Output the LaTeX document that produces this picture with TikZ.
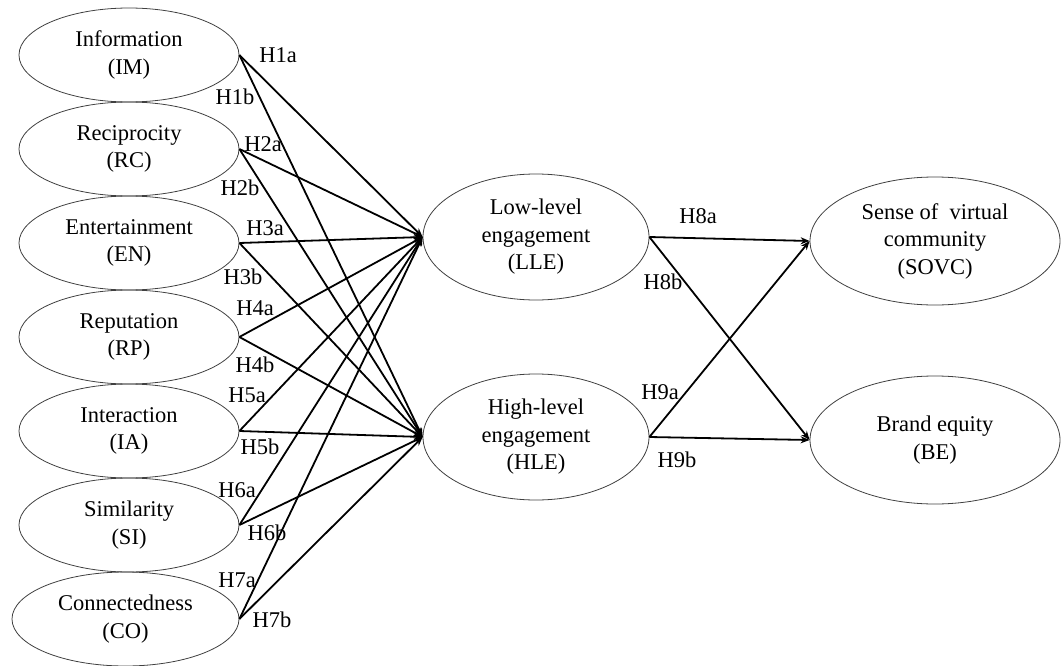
\documentclass[tikz,border=0pt]{standalone}
\usepackage{fontspec}
\setmainfont{Liberation Serif}
\usetikzlibrary{shapes.geometric,arrows.meta}
\begin{document}
\begin{tikzpicture}[x=1pt,y=-1pt,
  lat/.style={ellipse,draw=black!75,line width=0.8pt,minimum width=220pt,minimum height=94pt,inner sep=0pt,align=center,font=\fontsize{22.5}{27.5}\selectfont},
  hyp/.style={font=\fontsize{22.5}{25}\selectfont,inner sep=0pt},
  conn/.style={line width=1.8pt,-{Stealth[length=9pt,width=7pt]}}
]
\useasboundingbox (0,0) rectangle (1062,666);
% left constructs
\node[lat] (IM) at (129,55) {Information\\(IM)};
\node[lat] (RC) at (129,149) {Reciprocity\\(RC)};
\node[lat] (EN) at (129,243) {Entertainment\\(EN)};
\node[lat] (RP) at (129,337) {Reputation\\(RP)};
\node[lat] (IA) at (129,431) {Interaction\\(IA)};
\node[lat] (SI) at (129,525) {Similarity\\(SI)};
\node[lat,minimum width=227pt] (CO) at (125.5,619) {Connectedness\\(CO)};
% middle
\node[lat,minimum width=226pt,minimum height=126pt] (LLE) at (536,237) {Low-level\\engagement\\(LLE)};
\node[lat,minimum width=226pt,minimum height=126pt] (HLE) at (536,437) {High-level\\engagement\\(HLE)};
% right
\node[lat,minimum width=250pt,minimum height=128pt] (SOVC) at (935,241) {Sense of \ virtual\\community\\(SOVC)};
\node[lat,minimum width=250pt,minimum height=128pt] (BE) at (935,440) {Brand equity\\(BE)};
% connectors
\foreach \s in {IM,RC,EN,RP,IA,SI,CO}{
  \draw[conn] (\s.east) -- (LLE.west);
  \draw[conn] (\s.east) -- (HLE.west);
}
\draw[conn] (LLE.east) -- (SOVC.west);
\draw[conn] (LLE.east) -- (BE.west);
\draw[conn] (HLE.east) -- (SOVC.west);
\draw[conn] (HLE.east) -- (BE.west);
% labels
\node[hyp] (h1a) at (278,55) {H1a};
\node[hyp] (h1b) at (235,97) {H1b};
\node[hyp] (h2a) at (263,144) {H2a};
\node[hyp] (h2b) at (240,188) {H2b};
\node[hyp] (h3a) at (265,228) {H3a};
\node[hyp] (h3b) at (243,277) {H3b};
\node[hyp] (h4a) at (255,308) {H4a};
\node[hyp] (h4b) at (255,365) {H4b};
\node[hyp] (h5a) at (247,395) {H5a};
\node[hyp] (h5b) at (260,447) {H5b};
\node[hyp] (h6a) at (237,490) {H6a};
\node[hyp] (h6b) at (267,533) {H6b};
\node[hyp] (h7a) at (237,580) {H7a};
\node[hyp] (h7b) at (272,620) {H7b};
\node[hyp] (h8a) at (698,216) {H8a};
\node[hyp] (h8b) at (663,282) {H8b};
\node[hyp] (h9a) at (660,392) {H9a};
\node[hyp] (h9b) at (677,460) {H9b};
\end{tikzpicture}
\end{document}
